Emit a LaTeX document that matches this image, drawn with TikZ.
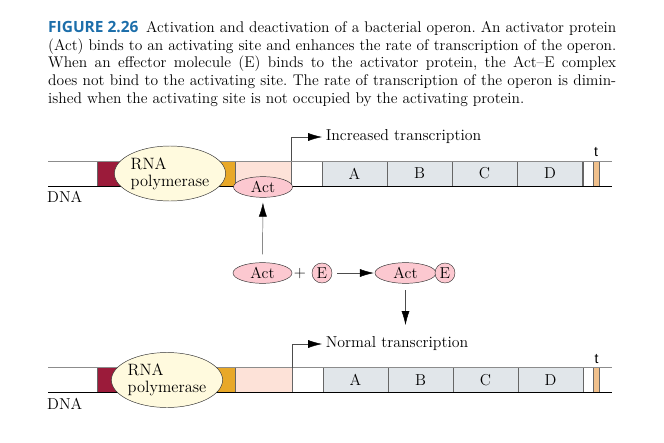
\documentclass[tikz,border=0pt]{standalone}
\usepackage{fontspec}
\newfontfamily\figfont{Open Sans}
\newfontfamily\tfont{Liberation Sans}
\usetikzlibrary{arrows.meta,shapes.geometric}
\definecolor{figblue}{RGB}{28,110,170}
\definecolor{dnared}{RGB}{155,27,58}
\definecolor{polyorange}{RGB}{232,168,40}
\definecolor{sitepink}{RGB}{253,226,216}
\definecolor{actpink}{RGB}{252,200,208}
\definecolor{genegray}{RGB}{225,230,234}
\definecolor{termtan}{RGB}{240,192,140}
\definecolor{polycream}{RGB}{255,250,222}
\begin{document}
\begin{tikzpicture}[x=0.03cm,y=-0.03cm,
  seg/.style={draw=black!60,inner sep=0pt,outer sep=0pt,minimum height=0.75cm},
  gene/.style={seg,fill=genegray,minimum width=1.95cm,font=\fontsize{13.5}{15}\selectfont},
  pol/.style={draw=black!80,ellipse,fill=polycream,inner sep=0pt,minimum width=3.12cm,minimum height=1.65cm,align=left,font=\fontsize{14}{14.5}\selectfont},
  act/.style={draw=black!80,ellipse,fill=actpink,inner sep=0pt,minimum width=1.77cm,minimum height=0.62cm,font=\fontsize{13.5}{14}\selectfont},
  eff/.style={draw=black!80,circle,fill=actpink,inner sep=0pt,minimum size=0.6cm,font=\fontsize{13.5}{14}\selectfont},
  arr/.style={draw=black!70,-{Latex[length=4.2mm,width=2.4mm,color=black]}},
  lbl/.style={font=\fontsize{13.5}{15}\selectfont,inner sep=0pt}]
\useasboundingbox (0,0) rectangle (664,442);

\node[anchor=north west,inner sep=0pt,text width=17.04cm,align=justify,font=\fontsize{13.2}{15.1}\selectfont\frenchspacing] (cap) at (48,21)
 {\textcolor{figblue}{\figfont\bfseries FIGURE 2.26}\enspace Activation and deactivation of a bacterial operon. An activator protein\linebreak
 (Act) binds to an activating site and enhances the rate of transcription of the operon.\linebreak
 When an effector molecule (E) binds to the activator protein, the Act--E complex\linebreak
 does not bind to the activating site. The rate of transcription of the operon is dimin-\linebreak
 ished when the activating site is not occupied by the activating protein.};

\node[seg,fill=dnared,minimum width=1.89cm] (red1) at (128.5,173.5) {};
\node[seg,fill=polyorange,minimum width=2.25cm] (or1) at (197.5,173.5) {};
\node[seg,fill=sitepink,minimum width=1.68cm] (site1) at (263,173.5) {};
\node[seg,minimum width=0.93cm] (w1a) at (306.5,173.5) {};
\node[gene] (A1) at (354.5,173.5) {A};
\node[gene] (B1) at (419.5,173.5) {B};
\node[gene] (C1) at (484.5,173.5) {C};
\node[gene] (D1) at (550,173.5) {D};
\node[seg,minimum width=0.3cm] (w1b) at (588,173.5) {};
\node[seg,fill=termtan,minimum width=0.18cm] (t1) at (596,173.5) {};
\coordinate (l1a) at (48,161);
\coordinate (r1a) at (612,161);
\coordinate (l1b) at (48,186);
\coordinate (r1b) at (612,186);
\path[draw,black!45] (l1a) -- (r1a);
\path[draw,black] (l1b) -- (r1b);
\node[pol] (pol1) at (170,173.5) {RNA\\polymerase};
\node[act] (act1) at (263,187) {Act};
\node[lbl,anchor=north west] (dna1) at (47,191) {DNA};
\node[inner sep=0pt,font=\tfont\fontsize{12}{12}\selectfont] (tl1) at (596,152) {t};
\node[lbl,anchor=west,inner sep=3pt] (inc) at (322,137) {Increased transcription};
\path[arr] (site1.north east) |- (inc.west);

\node[act] (act2) at (262.5,273) {Act};
\node[lbl] (plus) at (300,274) {+};
\node[eff] (e2) at (322,273) {E};
\node[act,minimum width=1.83cm] (act3) at (405.5,273) {Act};
\node[eff] (e3) at (445,273) {E};
\coordinate (dn) at (405.5,325);
\path[arr,shorten <=0.24cm,shorten >=0.15cm] (act2.north) -- (act1.south);
\path[arr,shorten <=0.15cm,shorten >=0.03cm] (e2.east) -- (act3.west);
\path[arr,shorten <=0.2cm] (act3.south) -- (dn);

\node[seg,fill=dnared,minimum width=1.89cm] (red2) at (129,380) {};
\node[seg,fill=polyorange,minimum width=2.25cm] (or2) at (197.5,380) {};
\node[seg,fill=sitepink,minimum width=1.71cm] (site2) at (263.5,380) {};
\node[seg,minimum width=0.93cm] (w2a) at (307.5,380) {};
\node[gene] (A2) at (355.5,380) {A};
\node[gene] (B2) at (420.5,380) {B};
\node[gene] (C2) at (485.5,380) {C};
\node[gene] (D2) at (550.5,380) {D};
\node[seg,minimum width=0.3cm] (w2b) at (588.5,380) {};
\node[seg,fill=termtan,minimum width=0.18cm] (t2) at (596.5,380) {};
\coordinate (l2a) at (48,367.5);
\coordinate (r2a) at (612,367.5);
\coordinate (l2b) at (48,392.5);
\coordinate (r2b) at (612,392.5);
\path[draw,black!45] (l2a) -- (r2a);
\path[draw,black] (l2b) -- (r2b);
\node[pol,minimum width=2.94cm] (pol2) at (167,380) {RNA\\polymerase};
\node[lbl,anchor=north west] (dna2) at (47,397.5) {DNA};
\node[inner sep=0pt,font=\tfont\fontsize{12}{12}\selectfont] (tl2) at (596.5,359) {t};
\node[lbl,anchor=west,inner sep=3pt] (norm) at (322,344) {Normal transcription};
\path[arr] (site2.north east) |- (norm.west);
\end{tikzpicture}
\end{document}
